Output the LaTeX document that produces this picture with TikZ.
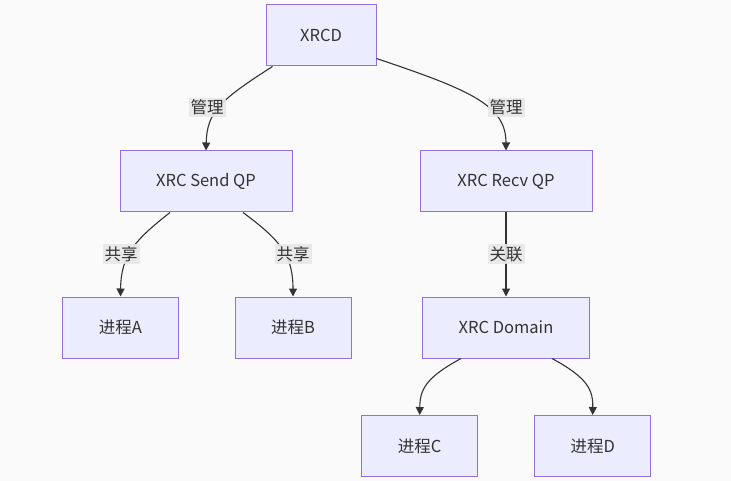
\documentclass[tikz,border=0pt]{standalone}
\usepackage{fontspec}
\setmainfont{Noto Sans CJK SC}
\usetikzlibrary{arrows.meta}
\definecolor{bg}{HTML}{FAFAFA}
\definecolor{nodefill}{HTML}{ECECFF}
\definecolor{nodeborder}{HTML}{9370DB}
\definecolor{edgecol}{HTML}{333333}
\definecolor{lblbg}{HTML}{E8E8E8}
\tikzset{
  box/.style={draw=nodeborder, fill=nodefill, line width=1pt, minimum height=61pt, text=edgecol, font=\fontsize{16.5}{19}\selectfont, inner sep=0pt},
  edge/.style={draw=edgecol, line width=1.1pt, -{Triangle[length=8pt,width=8pt]}},
  lbl/.style={fill=lblbg, fill opacity=0.9, text opacity=1, text=edgecol, font=\fontsize{16.5}{19}\selectfont, inner sep=2pt}
}
\begin{document}
\begin{tikzpicture}[x=1pt, y=-1pt]
\fill[bg] (0,0) rectangle (731,481);
\useasboundingbox (0,0) rectangle (731,481);
\node[box, minimum width=110pt] (xrcd) at (321,35.5) {XRCD};
\node[box, minimum width=172pt] (send) at (206,181.5) {XRC Send QP};
\node[box, minimum width=172pt] (recv) at (506,181.5) {XRC Recv QP};
\node[box, minimum width=116pt] (pa) at (120.5,327.5) {进程A};
\node[box, minimum width=116pt] (pb) at (293,327.5) {进程B};
\node[box, minimum width=167pt] (dom) at (506,327.5) {XRC Domain};
\node[box, minimum width=116pt] (pc) at (419.7,446) {进程C};
\node[box, minimum width=116pt] (pd) at (592.7,446) {进程D};

\draw[edge] ([xshift=7pt]xrcd.south west) .. controls (220,100) and (207,112) .. (send.north);
\draw[edge] ([yshift=8pt]xrcd.south east) .. controls (470,90) and (506,105) .. (recv.north);
\draw[edge] ([xshift=-36pt]send.south) .. controls (135,240) and (121,255) .. (pa.north);
\draw[edge] ([xshift=37pt]send.south) .. controls (280,240) and (293,255) .. (pb.north);
\draw[edge] (recv.south) -- (dom.north);
\draw[edge] ([xshift=-45pt]dom.south) .. controls (425,378) and (420,390) .. (pc.north);
\draw[edge] ([xshift=46pt]dom.south) .. controls (588,378) and (593,390) .. (pd.north);

\node[lbl] (l1) at (207,107.5) {管理};
\node[lbl] (l2) at (506,107.5) {管理};
\node[lbl] (l3) at (121,254) {共享};
\node[lbl] (l4) at (293,254) {共享};
\node[lbl] (l5) at (506,254) {关联};
\end{tikzpicture}
\end{document}
